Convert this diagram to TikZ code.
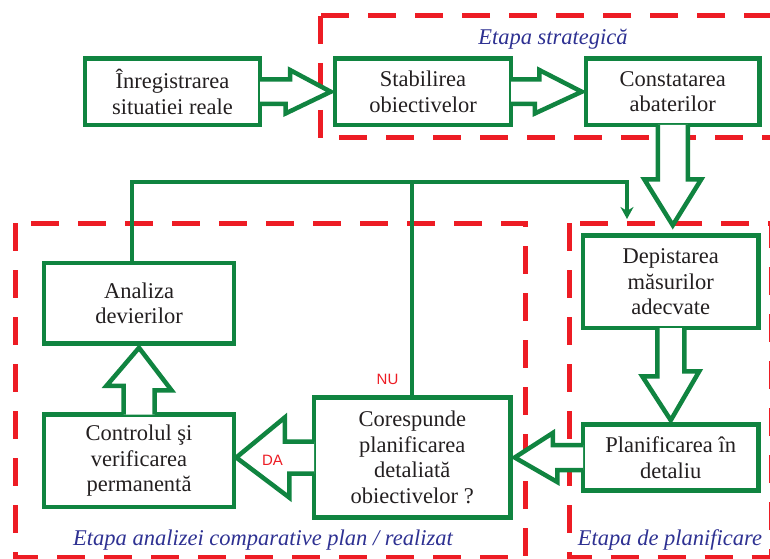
\documentclass[tikz,border=0pt]{standalone}
\usepackage{fontspec}
\setmainfont{Liberation Serif}
\newfontfamily\answerfont{Liberation Sans}
\usetikzlibrary{arrows.meta}
\definecolor{boxgreen}{RGB}{16,132,64}
\definecolor{stagered}{RGB}{237,28,36}
\definecolor{stageblue}{RGB}{46,49,146}
\definecolor{textgray}{RGB}{35,31,32}

\begin{document}
\begin{tikzpicture}[x=1pt, y=1pt, box/.style={rectangle, draw=boxgreen, line width=4.5pt, inner sep=0pt, align=center, text=textgray, font=\fontsize{22.5}{25.5}\selectfont}, barrow/.style={draw=boxgreen, fill=white, line width=4.5pt}, fbline/.style={draw=boxgreen, line width=4pt}, stage/.style={draw=stagered, line width=5pt, dash pattern=on 28pt off 19pt}, stagelabel/.style={text=stageblue, font=\fontsize{22.5}{25.5}\selectfont\itshape}, answer/.style={text=stagered, font=\answerfont\fontsize{15}{18}\selectfont}]

	\useasboundingbox (0, 0) rectangle (770, 558);

	\clip (0, 0) rectangle (770, 558);

	% etape
	\draw[stage] (320, 542) rectangle (800, 420);

	\draw[stage] (15.5, 335) rectangle (525, 0.5);

	\draw[stage] (569, 335) rectangle (771, 0.5);

	\node[stagelabel] (strat) at (553, 519) {Etapa strategică};

	\node[stagelabel] (comp) at (263, 18) {Etapa analizei comparative plan / realizat};

	\node[stagelabel] (planif) at (670, 18) {Etapa de planificare};

	% blocuri
	\node[box, minimum width=175pt, minimum height=66.5pt] (inreg) at (172.5, 466.25) {Înregistrarea\\situatiei reale};

	\node[box, minimum width=176pt, minimum height=66.5pt] (stab) at (423, 466.25) {Stabilirea\\obiectivelor};

	\node[box, minimum width=173.5pt, minimum height=66.5pt] (const) at (672.75, 466.25) {Constatarea\\abaterilor};

	\node[box, minimum width=175.5pt, minimum height=92.5pt] (dep) at (670.75, 276.25) {Depistarea\\măsurilor\\adecvate};

	\node[box, minimum width=175.5pt, minimum height=66pt] (plan) at (670.75, 100.5) {Planificarea în\\detaliu};

	\node[box, minimum width=196.5pt, minimum height=120pt] (cores) at (412.25, 100.5) {Corespunde\\planificarea\\detaliată\\obiectivelor ?};

	\node[box, minimum width=190pt, minimum height=80.5pt] (anal) at (139, 254.75) {Analiza\\devierilor};

	\node[box, minimum width=190pt, minimum height=92.5pt] (contr) at (139, 97.25) {Controlul şi\\verificarea\\permanentă};

	% sageti
	\draw[barrow] ([xshift=-2.25pt, yshift=12.25pt]inreg.east) -- ++(30, 0) -- ++(0, 9.5) -- ([xshift=-2pt]stab.west) -- ++(-45.25, -21.75) -- ++(0, 9.5) -- ([xshift=-2.25pt, yshift=-12.25pt]inreg.east);

	\draw[barrow] ([xshift=-2.25pt, yshift=12.25pt]stab.east) -- ++(28.25, 0) -- ++(0, 9.5) -- ([xshift=-2pt]const.west) -- ++(-47, -21.75) -- ++(0, 9.5) -- ([xshift=-2.25pt, yshift=-12.25pt]stab.east);

	\draw[barrow] ([xshift=-15pt, yshift=2.25pt]const.south) -- ++(0, -54.25) -- ++(-13.5, 0) -- ++(28.5, -46) -- ++(28.5, 46) -- ++(-13.5, 0) -- ([xshift=15pt, yshift=2.25pt]const.south);

	\draw[barrow] ([xshift=-13.5pt, yshift=2.25pt]dep.south) -- ++(0, -48.25) -- ++(-15, 0) -- ([yshift=2pt]plan.north) -- ++(28.5, 49) -- ++(-15, 0) -- ([xshift=13.5pt, yshift=2.25pt]dep.south);

	\draw[barrow] ([xshift=2.25pt, yshift=12.5pt]plan.west) -- ++(-30.25, 0) -- ++(0, 12) -- ([xshift=2pt]cores.east) -- ++(42.5, -24.5) -- ++(0, 12) -- ([xshift=2.25pt, yshift=-12.5pt]plan.west);

	\draw[barrow] ([xshift=2.25pt, yshift=16pt]cores.west) -- ++(-29.25, 0) -- ++(0, 24) -- (contr.east |- cores.west) -- ++(53, -40) -- ++(0, 24) -- ([xshift=2.25pt, yshift=-16pt]cores.west);

	\draw[barrow] ([xshift=-15.5pt, yshift=-2.25pt]contr.north) -- ++(0, 28.75) -- ++(-17, 0) -- ([yshift=-2pt]anal.south) -- ++(32.5, -42.5) -- ++(-17, 0) -- ([xshift=15.5pt, yshift=-2.25pt]contr.north);

	% bucla de revenire
	\coordinate (fbend) at (627, 376);

	\coordinate (fbtip) at (627, 339);

	\draw[fbline, -{Stealth[length=12pt, width=13pt]}] ([xshift=-7pt]anal.north) |- (fbend) -- (fbtip);

	\draw[fbline] (cores.north) -- (cores.north |- fbend);

	\node[answer] (nu) at (387.5, 179) {NU};

	\node[answer] (da) at (272.5, 97.5) {DA};

\end{tikzpicture}
\end{document}
